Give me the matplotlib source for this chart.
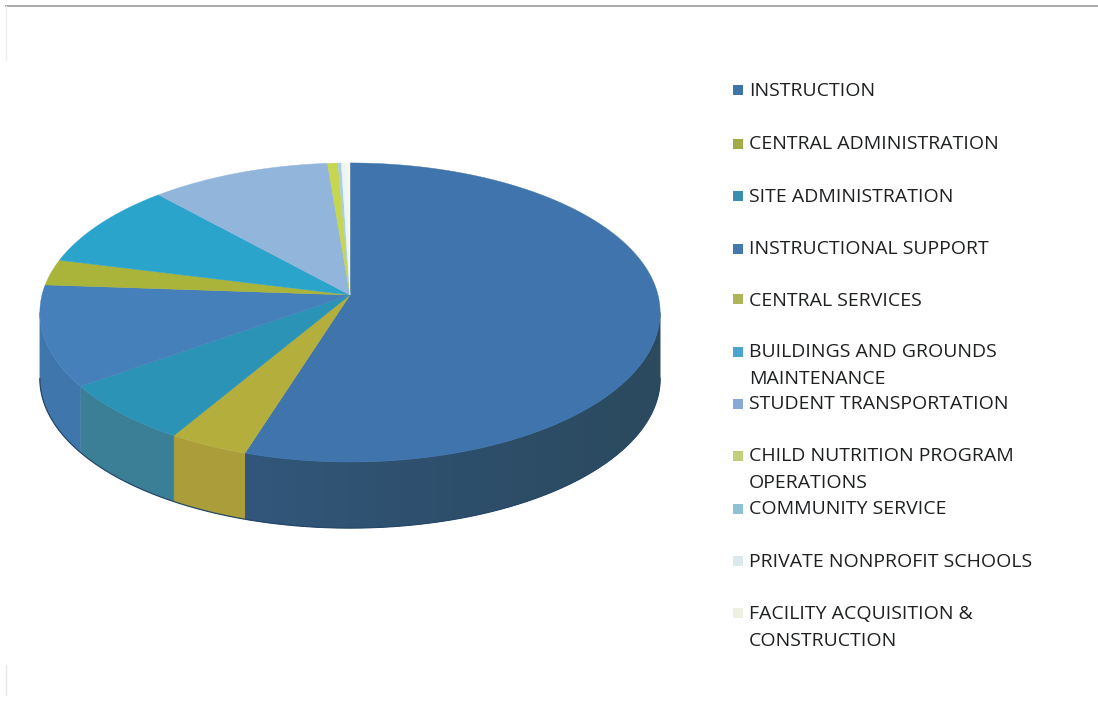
import numpy as np
import matplotlib
matplotlib.use("Agg")
import matplotlib.pyplot as plt
from matplotlib.colors import LinearSegmentedColormap
from matplotlib.patches import Polygon

categories = ["INSTRUCTION", "CENTRAL ADMINISTRATION", "SITE ADMINISTRATION",
              "INSTRUCTIONAL SUPPORT", "CENTRAL SERVICES",
              "BUILDINGS AND GROUNDS\nMAINTENANCE", "STUDENT TRANSPORTATION",
              "CHILD NUTRITION PROGRAM\nOPERATIONS", "COMMUNITY SERVICE",
              "PRIVATE NONPROFIT SCHOOLS", "FACILITY ACQUISITION &\nCONSTRUCTION"]
values = [54.9, 3.7, 6.6, 10.9, 2.8, 9.3, 10.5, 0.6, 0.2, 0.3, 0.2]
top_colors = ["#3f74ac", "#b4ae3c", "#2b93b6", "#4580bb", "#aab43a", "#2ba4cb",
              "#92b5dc", "#c6d64e", "#a8cfe0", "#eef3f4", "#f7f8e6"]
wall_colors = ["#2e5070", "#aa9d3a", "#3b7f97", "#3f76ab", "#8f9a35", "#2f8aa8",
               "#7a9cc0", "#a8b548", "#8fb3c4", "#d0d6d8", "#d8dac8"]
legend_colors = ["#3f74a8", "#a3ab47", "#3a8fb0", "#4579ae", "#aeb558", "#4aa5cc",
                 "#86aad4", "#c3cf7a", "#8fc0d4", "#dbe8ec", "#eef0e2"]
legend_y = [91, 144, 197, 249, 301, 352, 404, 456, 509, 562, 614]
marker_y = [90, 144, 196, 249, 299, 352, 404, 456, 509, 561, 613]

CX, CY, A, B, K, DEPTH = 350, 295, 308, 147.5, 0.117, 66
FOLD = np.degrees(np.arcsin(K))


def project(theta_deg):
    t = np.radians(theta_deg)
    u, v = np.sin(t), np.cos(t)
    w = 1 + K * v
    return CX + A * u / w, CY - B * v / w


fig = plt.figure(figsize=(10.98, 7.02), dpi=100, facecolor="white")
ax = fig.add_axes([0, 0, 1, 1])
ax.set_xlim(0, 1098)
ax.set_ylim(702, 0)
ax.axis("off")

ax.plot([6, 1098], [5.5, 5.5], color="#a8aaa8", lw=1.4, zorder=1)
ax.plot([6, 6], [6, 60], color="#efefef", lw=1, zorder=1)
ax.plot([6, 6], [665, 695], color="#e8e8e8", lw=1, zorder=1)

edges = np.concatenate([[0], np.cumsum(values)]) / sum(values) * 360
wall_shade = LinearSegmentedColormap.from_list("wall", ["#32577a", "#2e4f6c", "#2b4a5e"])

# side wall: only the part of the rim facing the viewer
for i in range(len(values)):
    lo, hi = max(edges[i], 90 + FOLD), min(edges[i + 1], 270 - FOLD)
    if hi <= lo:
        continue
    angles = np.linspace(lo, hi, 120)
    x, y = project(angles)
    pts = np.column_stack([np.r_[x, x[::-1]], np.r_[y, (y + DEPTH)[::-1]]])
    patch = Polygon(pts, closed=True, facecolor=wall_colors[i],
                    edgecolor=wall_colors[i], lw=0.3, zorder=2)
    ax.add_patch(patch)
    if i == 0:
        grad = ax.imshow(np.linspace(0, 1, 256)[None, :], cmap=wall_shade, aspect="auto",
                         extent=(x.min(), x.max(), 702, 0), zorder=2.5)
        grad.set_clip_path(patch)
        ax.set_xlim(0, 1098)
        ax.set_ylim(702, 0)

outer = np.linspace(90 + FOLD, 270 - FOLD, 360)
ox, oy = project(outer)
ax.plot(ox, oy + DEPTH, color="#27486a", lw=0.9, zorder=3)

# top face
for i in range(len(values)):
    angles = np.linspace(edges[i], edges[i + 1], max(int(values[i] * 4), 2))
    x, y = project(angles)
    pts = np.column_stack([np.r_[CX, x], np.r_[CY, y]])
    ax.add_patch(Polygon(pts, closed=True, facecolor=top_colors[i],
                         edgecolor=top_colors[i], lw=0.3, zorder=4))

# legend
for label, ly, my, col in zip(categories, legend_y, marker_y, legend_colors):
    ax.scatter([738], [my], s=62, marker="s", color=col, linewidths=0, zorder=5)
    ax.text(749, ly - 9, label, fontsize=14, family="Open Sans", color="#1e2022",
            va="top", ha="left", linespacing=1.64, zorder=5)

fig.savefig("out.png", dpi=100, facecolor="white")
